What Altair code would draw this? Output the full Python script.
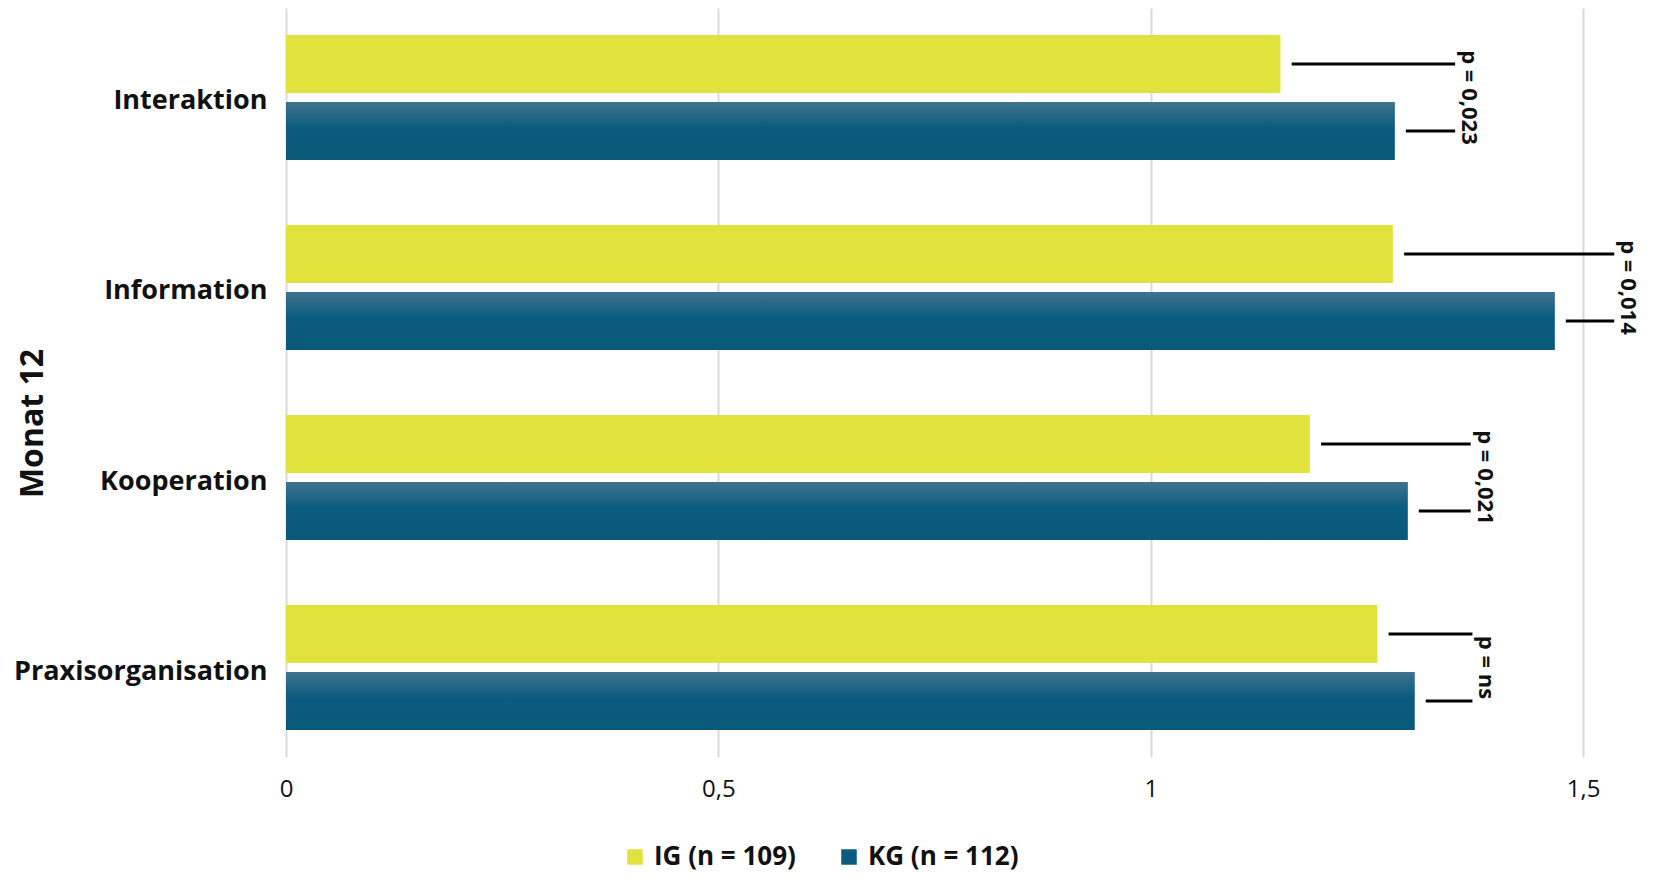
import altair as alt
import pandas as pd

categories = ["Interaktion", "Information", "Kooperation", "Praxisorganisation"]
groups = ["IG (n = 109)", "KG (n = 112)"]
ig_values = [1.150, 1.280, 1.184, 1.262]
kg_values = [1.282, 1.467, 1.297, 1.305]
p_labels = ["p = 0,023", "p = 0,014", "p = 0,021", "p = ns"]
bracket_ends = [1.352, 1.536, 1.370, 1.372]
x_ticks = [0, 0.5, 1, 1.5]
colors = ["#e2e23c", "#0a5c7e"]

FONT = "Open Sans"

rows = []
for c, a, b in zip(categories, ig_values, kg_values):
    rows.append({"category": c, "group": groups[0], "value": a})
    rows.append({"category": c, "group": groups[1], "value": b})
bars_df = pd.DataFrame(rows)

rule_rows = []
for c, a, b, e in zip(categories, ig_values, kg_values, bracket_ends):
    rule_rows.append({"category": c, "group": groups[0], "x": a + 0.013, "x2": e})
    rule_rows.append({"category": c, "group": groups[1], "x": b + 0.013, "x2": e})
rules_df = pd.DataFrame(rule_rows)

text_df = pd.DataFrame({
    "category": categories,
    "label": p_labels,
    "x": [e + 0.016 for e in bracket_ends],
})

x_scale = alt.Scale(domain=[0, 1.56], nice=False, zero=True)
y_scale = alt.Scale(paddingInner=0.342, paddingOuter=0.142)
yoff_scale = alt.Scale(paddingInner=0.134, paddingOuter=0)

y_enc = alt.Y(
    "category:N",
    sort=categories,
    scale=y_scale,
    axis=alt.Axis(
        title="Monat 12",
        domain=False,
        ticks=False,
        grid=False,
        labelFont=FONT,
        labelFontSize=27,
        labelFontWeight="bold",
        labelColor="#111111",
        labelPadding=19,
        labelLimit=400,
        labelOffset=4,
        titleFont=FONT,
        titleFontSize=32,
        titleFontWeight="bold",
        titleColor="#111111",
        titleAngle=-90,
        titleX=-254,
        titleY=415,
        titleAlign="center",
        titleBaseline="middle",
    ),
)

x_axis = alt.Axis(
    values=x_ticks,
    labelExpr="replace(toString(datum.value), '.', ',')",
    domain=False,
    ticks=False,
    grid=True,
    gridColor="#d9d9d9",
    gridWidth=2,
    labelFont=FONT,
    labelFontSize=24,
    labelColor="#111111",
    labelPadding=20,
    labelFlush=False,
    title=None,
)

bars = alt.Chart(bars_df).mark_bar().encode(
    x=alt.X("value:Q", scale=x_scale, axis=x_axis),
    y=y_enc,
    yOffset=alt.YOffset("group:N", sort=groups, scale=yoff_scale),
    color=alt.Color(
        "group:N",
        sort=groups,
        scale=alt.Scale(domain=groups, range=colors),
        legend=alt.Legend(
            orient="none",
            legendX=336,
            legendY=836,
            direction="horizontal",
            title=None,
            symbolType="square",
            symbolSize=240,
            symbolStrokeWidth=0,
            labelFont=FONT,
            labelFontSize=26,
            labelFontWeight="bold",
            labelColor="#111111",
            labelOffset=6,
            columnPadding=40,
        ),
    ),
)

kg_gradient = alt.Gradient(
    gradient="linear",
    x1=0, x2=0, y1=0, y2=1,
    stops=[
        alt.GradientStop(color="#41728f", offset=0),
        alt.GradientStop(color="#0a5c7e", offset=0.45),
        alt.GradientStop(color="#09597a", offset=1),
    ],
)

kg_overlay = alt.Chart(bars_df).transform_filter(
    alt.datum.group == groups[1]
).mark_bar(color=kg_gradient).encode(
    x=alt.X("value:Q", scale=x_scale),
    y=alt.Y("category:N", sort=categories, scale=y_scale),
    yOffset=alt.YOffset("group:N", sort=groups, scale=yoff_scale),
)

rules = alt.Chart(rules_df).mark_rule(color="black", strokeWidth=3).encode(
    x=alt.X("x:Q", scale=x_scale),
    x2="x2:Q",
    y=alt.Y("category:N", sort=categories, scale=y_scale),
    yOffset=alt.YOffset("group:N", sort=groups, scale=yoff_scale),
)

texts = alt.Chart(text_df).mark_text(
    angle=90,
    align="center",
    baseline="middle",
    font=FONT,
    fontSize=22,
    fontWeight="bold",
    color="#111111",
).encode(
    x=alt.X("x:Q", scale=x_scale),
    y=alt.Y("category:N", sort=categories, scale=y_scale),
    text="label:N",
)

chart = alt.layer(bars, kg_overlay, rules, texts).properties(
    width=1349,
    height=749,
    autosize=alt.AutoSizeParams(type="none"),
    padding={"left": 278, "top": 0, "right": 10, "bottom": 118},
).configure_view(stroke=None)

chart.save("out.html", embed_options={"renderer": "svg", "actions": False})
